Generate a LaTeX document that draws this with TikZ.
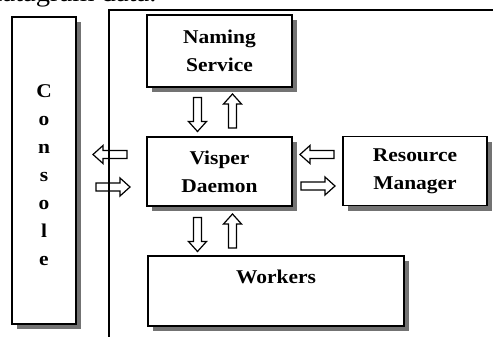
\documentclass[tikz,border=0pt]{standalone}
\usepackage{fontspec}
\setmainfont{Liberation Serif}
\newfontfamily\labelfont{Liberation Serif}[FakeStretch=1.1]
\newfontfamily\topfont{Liberation Serif}[FakeStretch=1.1]
\usetikzlibrary{shadows}
\tikzset{
  box/.style={draw=black, line width=1.3pt, fill=white, inner sep=0pt,
    drop shadow={shadow xshift=5pt, shadow yshift=-5pt, fill=black!55, opacity=1}},
  lbl/.style={font=\labelfont\bfseries\fontsize{19.5}{28}\selectfont, align=center, inner sep=0pt},
  arrowline/.style={draw=black, line width=1.2pt, fill=white, line join=miter},
  blockarr/.pic={
    \path[arrowline] (-17,-4) -- (7,-4) -- (7,-9) -- (17,0) -- (7,9) -- (7,4) -- (-17,4) -- cycle;
  },
  frameline/.style={draw=black, line width=1.1pt}
}
\begin{document}
\begin{tikzpicture}[x=1pt, y=-1pt]
\useasboundingbox (0,0) rectangle (493,337);
\begin{scope}
\clip (0,0) rectangle (493,337);
\node[font=\topfont\fontsize{26}{30}\selectfont, anchor=base west, inner sep=0pt] (toptext) at (-12,1.5) {datagram data.};
\end{scope}

% boxes
\node[box, minimum width=64pt, minimum height=307pt] (console) at (44,170.5) {};
\node[lbl] (consoletext) at (44,175) {\baselineskip=25.5pt C\\o\\n\\s\\o\\l\\e};
\node[box, minimum width=145pt, minimum height=72pt, lbl] (naming) at (219.5,51) {Naming\\Service};
\node[box, minimum width=145pt, minimum height=69pt, lbl] (visper) at (219.5,171.5) {Visper\\Daemon};
\node[box, minimum width=144pt, minimum height=69pt, lbl] (rm) at (415,171) {Resource\\Manager};
\node[box, minimum width=256pt, minimum height=70pt] (workers) at (276,291) {};
\node[lbl] (workerstext) at (276,276.5) {Workers};

% block arrows
\pic[rotate=-90] at (197.5,114.5) {blockarr};
\pic[rotate=90] at (232.5,111) {blockarr};
\pic[rotate=-90] at (197.5,234.5) {blockarr};
\pic[rotate=90] at (232.5,231) {blockarr};
\pic[rotate=180] at (110,154.5) {blockarr};
\pic at (113,187) {blockarr};
\pic[rotate=180] at (317,154.5) {blockarr};
\pic at (318,186) {blockarr};

% frame lines
\coordinate (fb) at (109,337);
\coordinate (fc) at (109,10);
\coordinate (fr) at (493,10);
\draw[frameline] (fb) -- (fc) -- (fr);
\end{tikzpicture}
\end{document}
